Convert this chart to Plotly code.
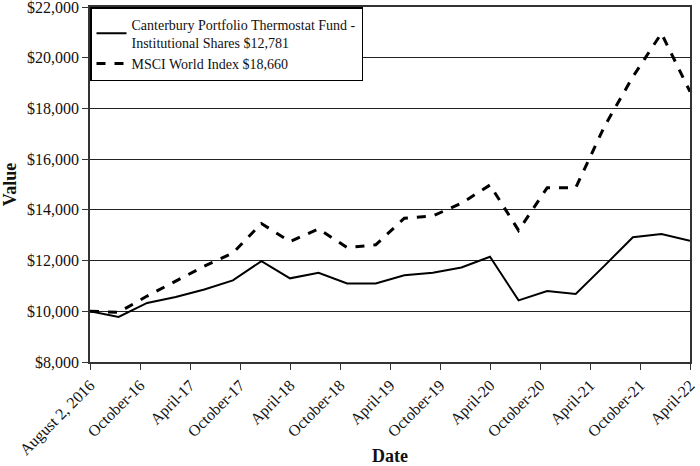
import plotly.graph_objects as go

point_index = list(range(22))
fund_values = [10000, 9775, 10330, 10560, 10860, 11220, 11980, 11300, 11520, 11100, 11100,
               11420, 11520, 11730, 12150, 10430, 10800, 10680, 11790, 12920, 13050, 12781]
msci_values = [10000, 9960, 10600, 11200, 11780, 12300, 13460, 12750, 13250, 12510, 12620,
               13670, 13760, 14260, 14980, 13190, 14870, 14870, 17280, 19250, 20960, 18660]
tick_labels = ["August 2, 2016", "October-16", "April-17", "October-17", "April-18",
               "October-18", "April-19", "October-19", "April-20", "October-20",
               "April-21", "October-21", "April-22"]
tick_positions = [k * 21 / 12 for k in range(len(tick_labels))]
y_ticks = list(range(8000, 22001, 2000))

FONT = "Liberation Serif"

fig = go.Figure()
fig.add_trace(go.Scatter(
    x=point_index, y=fund_values, mode="lines",
    name="Canterbury Portfolio Thermostat Fund -<br>Institutional Shares $12,781",
    line=dict(color="black", width=2)))
fig.add_trace(go.Scatter(
    x=point_index, y=msci_values, mode="lines",
    name="MSCI World Index $18,660",
    line=dict(color="black", width=3, dash="dash")))

fig.update_layout(
    width=700, height=466,
    margin=dict(l=90, r=10, t=7, b=104, autoexpand=False),
    paper_bgcolor="white", plot_bgcolor="white",
    font=dict(family=FONT, size=14, color="#111"),
    showlegend=True,
    legend=dict(x=0, y=1, xanchor="left", yanchor="top",
                bgcolor="white", bordercolor="black", borderwidth=1.5,
                font=dict(family=FONT, size=14, color="#111"),
                tracegroupgap=8, itemwidth=30),
    xaxis=dict(range=[0, 21], tickmode="array", tickvals=tick_positions,
               ticktext=tick_labels, tickangle=-45, showgrid=False, automargin=False,
               showline=True, linecolor="#333", linewidth=1.5, mirror=True,
               ticks="outside", ticklen=6, tickcolor="#333", zeroline=False,
               ticklabeloverflow="allow",
               title=dict(text="<b>Date</b>", font=dict(family=FONT, size=18), standoff=4),
               tickfont=dict(family=FONT, size=16)),
    yaxis=dict(range=[8000, 22000], tickmode="array", tickvals=y_ticks,
               ticktext=[f"${v:,}" for v in y_ticks], automargin=False,
               showgrid=True, gridcolor="#222", gridwidth=1.2,
               showline=True, linecolor="#333", linewidth=1.5, mirror=True,
               ticks="outside", ticklen=6, tickcolor="#333", zeroline=False,
               ticklabeloverflow="allow",
               title=dict(text="<b>Value</b>", font=dict(family=FONT, size=18), standoff=9),
               tickfont=dict(family=FONT, size=16)),
)

fig.write_html("out.html", config={"displayModeBar": False},
               post_script="document.body.style.margin='0';document.body.style.overflow='hidden';")
